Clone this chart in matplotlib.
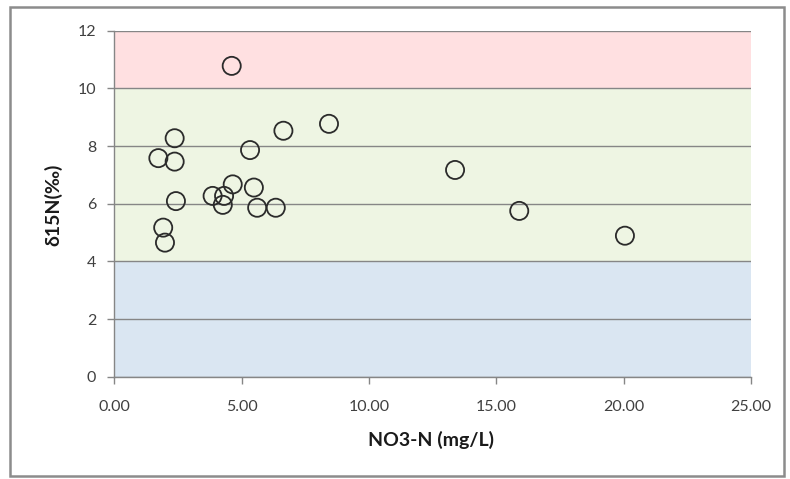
import matplotlib
matplotlib.use("Agg")
import matplotlib.pyplot as plt
from matplotlib.patches import Rectangle

# Data
no3_n = [4.61, 1.73, 2.37, 2.37, 2.42, 1.92, 1.99, 3.86, 4.31, 4.26,
         4.65, 5.33, 5.48, 5.61, 6.34, 6.64, 8.43, 13.38, 15.90, 20.05]
d15n = [10.78, 7.58, 8.27, 7.46, 6.09, 5.17, 4.65, 6.27, 6.27, 5.96,
        6.67, 7.86, 6.56, 5.86, 5.86, 8.53, 8.77, 7.17, 5.75, 4.89]

band_limits = [0, 4, 10, 12]
band_colors = ["#dae6f2", "#eef5e3", "#ffe0e1"]

x_ticks = [0, 5, 10, 15, 20, 25]
x_tick_labels = ["0.00", "5.00", "10.00", "15.00", "20.00", "25.00"]
y_ticks = [0, 2, 4, 6, 8, 10, 12]

plt.rcParams['font.family'] = ['Lato', 'DejaVu Sans']

fig = plt.figure(figsize=(7.90, 4.79), dpi=100)
fig.patch.set_facecolor("white")

# outer chart frame
fig.patches.append(Rectangle((10/790, 1 - 476/479), 774/790, 469/479,
                             transform=fig.transFigure, fill=False,
                             edgecolor="#8c8c8c", linewidth=1.8, zorder=0))

ax = fig.add_axes([114.3/790, 1 - 376.7/479, (751 - 114.3)/790, (376.7 - 30.7)/479])

for lo, hi, c in zip(band_limits[:-1], band_limits[1:], band_colors):
    ax.axhspan(lo, hi, color=c, zorder=0, linewidth=0)

ax.set_xlim(0, 25)
ax.set_ylim(0, 12)
ax.set_xticks(x_ticks)
ax.set_xticklabels(x_tick_labels)
ax.set_yticks(y_ticks)

ax.grid(axis="y", color="#868686", linewidth=1.0, zorder=1)
ax.set_axisbelow(True)

ax.scatter(no3_n, d15n, s=170, facecolors="none", edgecolors="#2b2b2b",
           linewidths=1.3, zorder=3)

for side in ["top", "right"]:
    ax.spines[side].set_visible(False)
for side in ["left", "bottom"]:
    ax.spines[side].set_color("#868686")
    ax.spines[side].set_linewidth(1.0)

ax.tick_params(axis="both", direction="out", color="#868686", length=5,
               width=1.0, labelsize=11.5, labelcolor="#404040")
ax.tick_params(axis="x", pad=12)
ax.tick_params(axis="y", pad=8)

fig.text(431/790, 1 - 440/479, "NO3-N (mg/L)", fontsize=14, fontweight="bold",
         color="#1a1a1a", ha="center", va="center")
fig.text(53/790, 1 - 205/479, "δ15N(‰)", fontsize=14, fontweight="bold",
         color="#1a1a1a", ha="center", va="center", rotation=90)

fig.savefig("out.png", dpi=100)
